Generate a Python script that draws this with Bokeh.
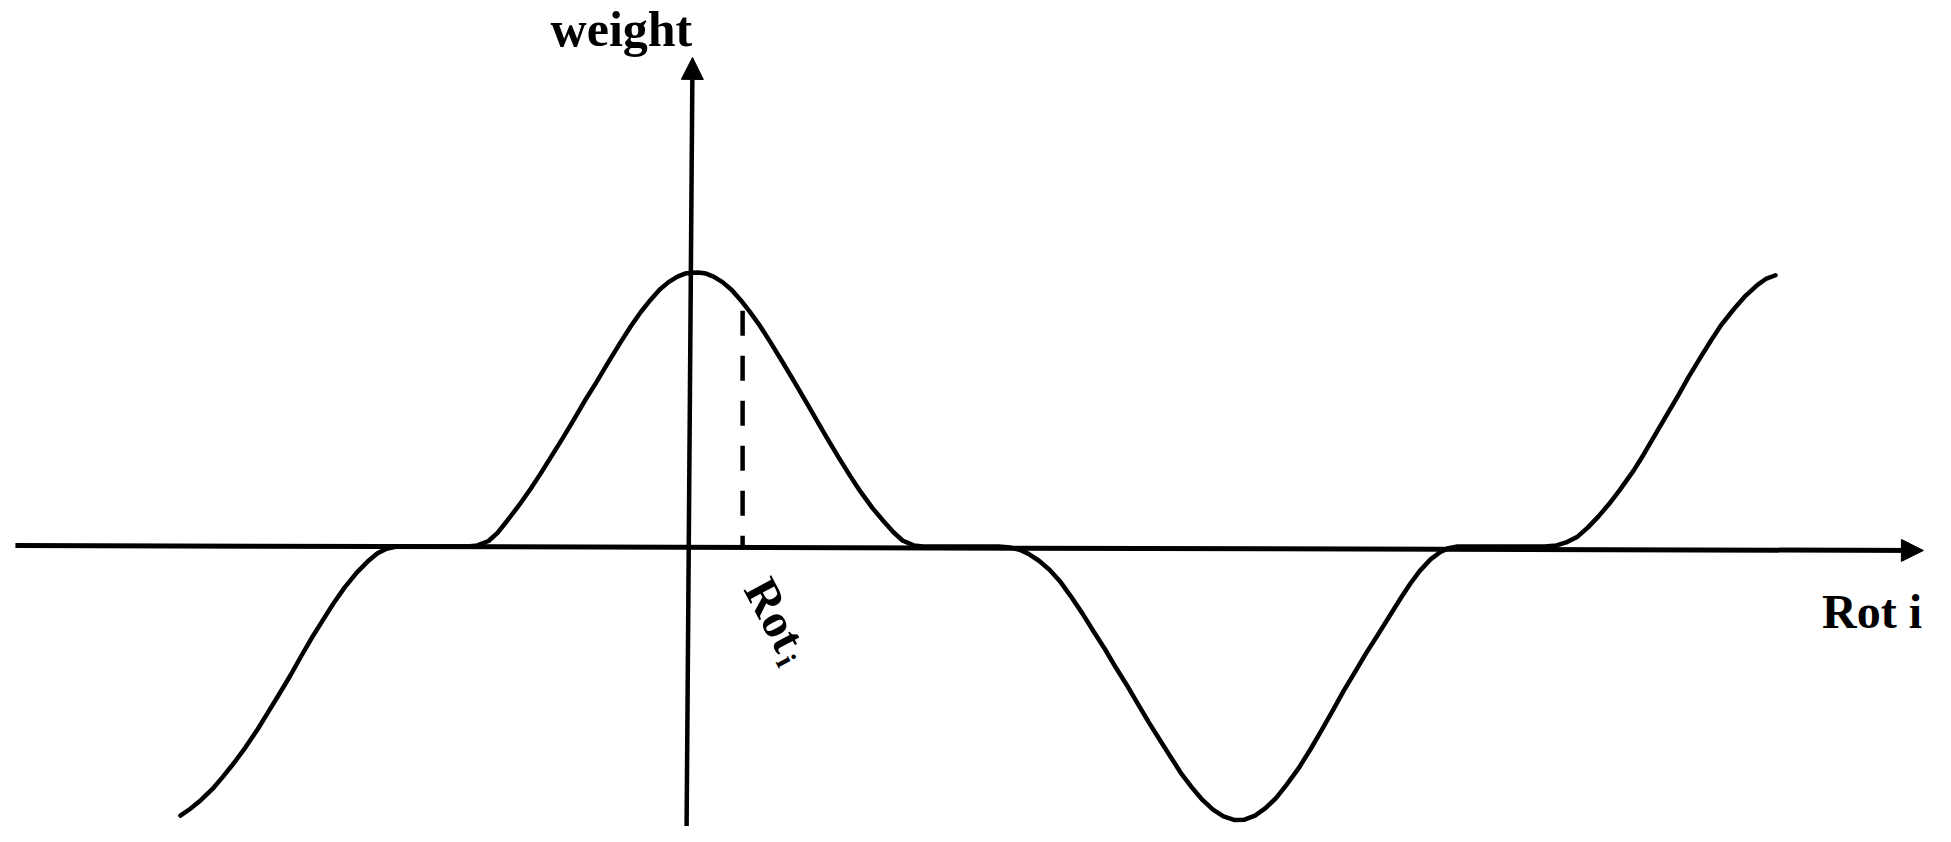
from bokeh.plotting import figure
from bokeh.models import Range1d, Arrow, NormalHead, ColumnDataSource
from bokeh.core.properties import value
from bokeh.embed import file_html
from bokeh.resources import INLINE

# ---- data (rotation in degrees, weight normalised) ----
rot = [-170.7, -167.5, -164, -160, -156.5, -153, -149, -145, -141.7, -138, -134,
       -130.7, -127, -123, -119.7, -116, -112, -108.3, -105, -102, -99, -96,
       -75, -71.7, -68, -65, -61.7, -58, -54, -50.7, -47, -43, -39.7, -36, -32,
       -28.3, -24, -20.5, -17.3, -14, -11, -8, -5, -2.5, 0, 2, 4.5, 7, 10, 13,
       16, 19, 22.5, 26, 30.3, 34, 38, 41.7, 45, 49, 52.7, 56, 60, 63.7, 67, 70,
       73.7, 77,
       102, 106, 109, 112, 115.5, 119, 122.7, 126, 130, 133.7, 137.5, 141, 145,
       148.5, 152, 156, 159.5, 163, 166.5, 170, 173.5, 177, 180.5, 184, 187.5,
       191, 194.5, 198, 202, 206, 210, 213.5, 217, 221, 224.5, 228.3, 232, 236,
       239.3, 242.5, 246, 249.3, 252, 255,
       284, 288, 291.5, 295, 298.5, 302, 305.5, 309, 313.7, 317, 321, 325, 328.5,
       332, 336, 339.5, 343, 347, 351, 355, 358, 361]
weight = [-0.982, -0.958, -0.927, -0.885, -0.84, -0.792, -0.733, -0.668, -0.609,
          -0.543, -0.47, -0.405, -0.335, -0.265, -0.208, -0.15, -0.096, -0.055,
          -0.025, -0.008, -0.001, 0,
          0, 0.004, 0.02, 0.05, 0.095, 0.148, 0.21, 0.265, 0.33, 0.4, 0.46, 0.53,
          0.6, 0.668, 0.745, 0.805, 0.855, 0.9, 0.937, 0.965, 0.985, 0.996, 0.999,
          1.0, 0.996, 0.985, 0.965, 0.937, 0.9, 0.858, 0.805, 0.745, 0.668, 0.6,
          0.525, 0.455, 0.393, 0.32, 0.255, 0.2, 0.14, 0.092, 0.052, 0.022, 0.004, 0,
          0, -0.004, -0.012, -0.027, -0.052, -0.085, -0.13, -0.18, -0.245, -0.31,
          -0.375, -0.44, -0.51, -0.575, -0.64, -0.71, -0.77, -0.83, -0.88,
          -0.925, -0.96, -0.985, -0.998, -0.997, -0.982, -0.955, -0.918, -0.87,
          -0.81, -0.74, -0.665, -0.597, -0.528, -0.455, -0.39, -0.325, -0.26,
          -0.19, -0.135, -0.088, -0.047, -0.02, -0.006, 0,
          0, 0.004, 0.016, 0.036, 0.07, 0.11, 0.155, 0.205, 0.277, 0.335, 0.41,
          0.485, 0.55, 0.618, 0.69, 0.752, 0.81, 0.865, 0.915, 0.955, 0.978, 0.99]

rot_i = 16.7          # marked rotation Rot_i
rot_i_weight = 0.86   # top of the dashed marker

# axis extents
h_axis_x = [-225.7, 410.3]
h_axis_y = [0.0036, -0.0146]
v_axis_x = [-2.0, 0.0]
v_axis_y = [-1.062, 1.785]

# labels
y_label = "weight"
x_label = "Rot i"
mark_label = "Rot"
mark_sub = "i"
y_label_pos = (-47.3, 1.992)
x_label_pos = (376.5, -0.237)
mark_label_pos = (21.7, -0.128)
mark_sub_pos = (31.3, -0.416)
label_angle = -1.082

p = figure(width=1935, height=826, output_backend="svg", toolbar_location=None,
           x_range=Range1d(-230.67, 414.33), y_range=Range1d(-1.0219, 1.9927),
           x_axis_location=None, y_axis_location=None, min_border=0)
p.grid.visible = False
p.outline_line_color = None
p.background_fill_color = "white"
p.border_fill_color = "white"

# axes with arrow heads
p.add_layout(Arrow(x_start=h_axis_x[0], y_start=h_axis_y[0], x_end=h_axis_x[1], y_end=h_axis_y[1],
                   line_width=5, line_color="black",
                   end=NormalHead(size=22, fill_color="black", line_color="black", line_width=1)))
p.add_layout(Arrow(x_start=v_axis_x[0], y_start=v_axis_y[0], x_end=v_axis_x[1], y_end=v_axis_y[1],
                   line_width=4.5, line_color="black",
                   end=NormalHead(size=22, fill_color="black", line_color="black", line_width=1)))

# weight curve
src = ColumnDataSource(dict(rot=rot, weight=weight))
p.line("rot", "weight", source=src, line_width=4.5, line_color="black",
       line_join="round", line_cap="round")

# dashed marker at Rot_i
p.line([rot_i, rot_i], [rot_i_weight, 0], line_width=4.5, line_color="black", line_dash="25 20")

font = value("Liberation Serif")
p.text(x=[y_label_pos[0]], y=[y_label_pos[1]], text=[y_label], text_font=font,
       text_font_style="bold", text_font_size="50px", text_color="black",
       text_align="left", text_baseline="top")
p.text(x=[x_label_pos[0]], y=[x_label_pos[1]], text=[x_label], text_font=font,
       text_font_style="bold", text_font_size="48px", text_color="black",
       text_align="left", text_baseline="alphabetic")
p.text(x=[mark_label_pos[0]], y=[mark_label_pos[1]], text=[mark_label], text_font=font,
       text_font_style="bold", text_font_size="48px", text_color="black",
       text_align="left", text_baseline="middle", angle=label_angle)
p.text(x=[mark_sub_pos[0]], y=[mark_sub_pos[1]], text=[mark_sub], text_font=font,
       text_font_style="bold", text_font_size="30px", text_color="black",
       text_align="center", text_baseline="middle", angle=label_angle)

open("out.html", "w").write(file_html(p, INLINE))
